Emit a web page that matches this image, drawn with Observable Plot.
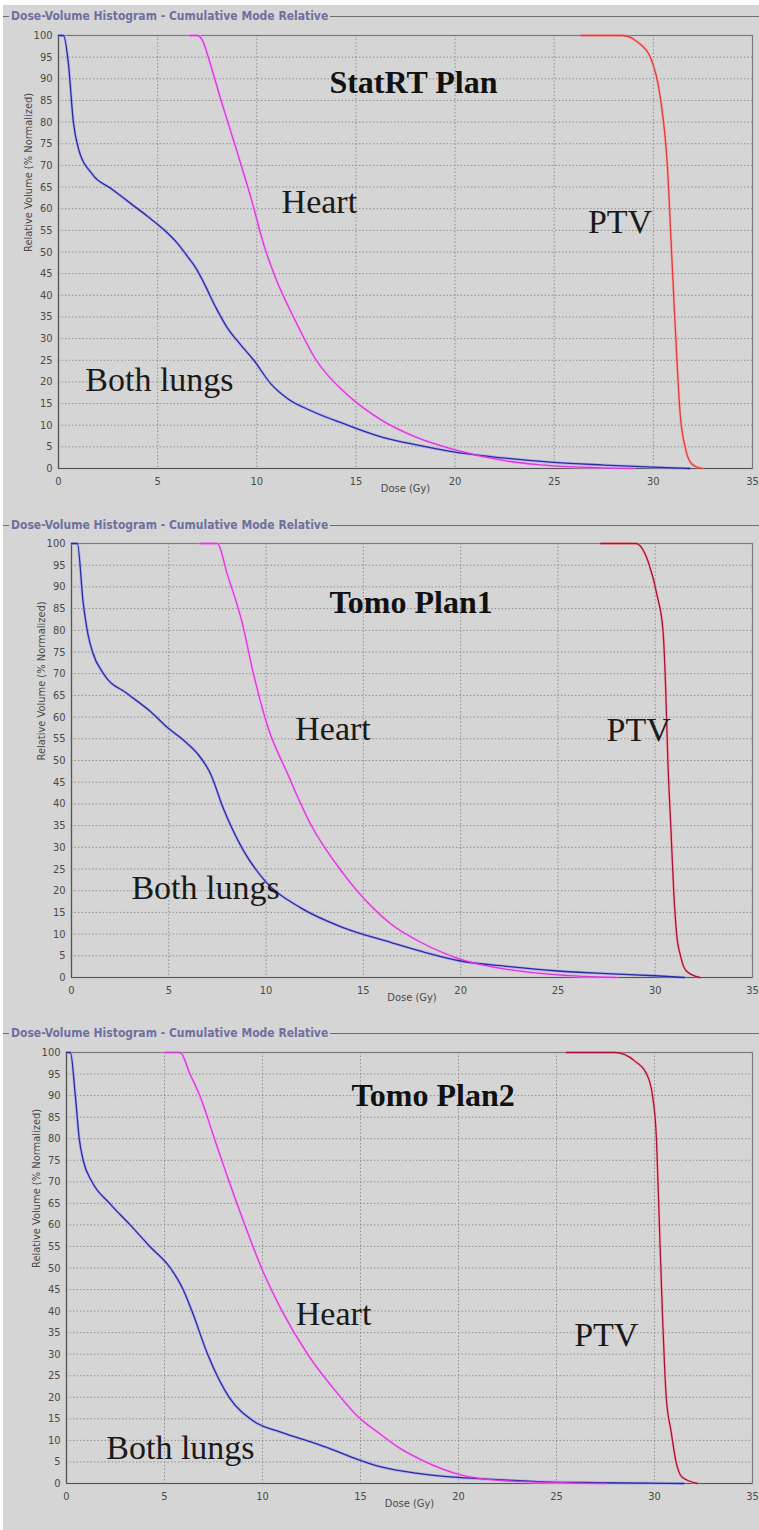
<!DOCTYPE html>
<html>
<head>
<meta charset="utf-8">
<script src="https://cdn.jsdelivr.net/npm/d3@7"></script>
<script src="https://cdn.jsdelivr.net/npm/@observablehq/plot@0.6"></script>
<style>
  html, body { margin: 0; padding: 0; background: #ffffff; }
  #page { position: relative; width: 759px; height: 1530px; overflow: hidden; background: #ffffff; }
  #bg { position: absolute; left: 3px; top: 5px; right: 0; bottom: 0; background: #d5d5d5; }
  .hdr { position: absolute; left: 3px; width: 756px; height: 16px; display: flex; align-items: center; }
  .hdr .seg { width: 6px; height: 0; border-top: 1.5px solid #6e6e6e; }
  .hdr .ttl { font-family: "Liberation Sans Narrow", "DejaVu Sans Condensed", "Liberation Sans", sans-serif; font-weight: bold; font-size: 12px; color: #6f6fa0; padding: 0 2px; white-space: nowrap; }
  .hdr .rest { flex: 1; height: 0; border-top: 1.5px solid #6e6e6e; }
  .panel { position: absolute; left: 0; }
</style>
</head>
<body>
<div id="page"><div id="bg"></div></div>
<script>
// ---------- data ----------
const xTicks = [0, 5, 10, 15, 20, 25, 30, 35];
const yTicks = [0, 5, 10, 15, 20, 25, 30, 35, 40, 45, 50, 55, 60, 65, 70, 75, 80, 85, 90, 95, 100];
const headerText = "Dose-Volume Histogram - Cumulative Mode Relative";
const xLabel = "Dose (Gy)";
const yLabel = "Relative Volume (% Normalized)";
const planNames = ["StatRT Plan", "Tomo Plan1", "Tomo Plan2"];
const structNames = ["Both lungs", "Heart", "PTV"];

// [dose (Gy), relative volume (%)]
const statLungs = [[0,100],[0.25,100],[0.5,93.5],[0.75,80],[1.0,74],[1.7,68],[2.7,64.5],[3.7,61],[4.5,58.2],[5.35,55],[6.0,52],[6.5,49],[6.9,46.5],[7.35,42.7],[7.9,37.5],[8.5,32.6],[9.2,28.5],[9.85,25],[10.7,19.6],[11.6,16],[12.7,13.4],[14.35,10.4],[16.35,7.2],[18,5.5],[20,3.8],[22.5,2.4],[25,1.4],[27.5,0.8],[30,0.3],[31.85,0]];
const statHeart = [[6.6,100],[7.0,100],[7.3,98.5],[7.5,95.8],[8.2,85],[8.95,74],[9.7,62.6],[10.4,51],[10.95,44],[11.85,35],[13.0,25],[14.5,17.3],[16.35,11],[18,7.3],[20,4.3],[22.5,1.8],[25,0.6],[27,0.2],[29,0]];
const statPTV = [[26.35,100],[28.45,100],[29.2,98.5],[29.85,95],[30.35,85.7],[30.7,70.4],[30.95,47],[31.2,24],[31.35,12.7],[31.6,5],[31.95,1],[32.45,0]];

const tomo1Lungs = [[0,100],[0.3,100],[0.6,86.4],[0.85,79],[1.08,75],[1.64,70],[2.87,65.4],[4.0,61.5],[4.93,57.6],[5.8,54.5],[6.47,51.6],[7.14,47],[7.8,39],[8.83,29.3],[10.06,21.7],[11.76,16.1],[13.96,11.5],[16.4,8.1],[18,6],[20,3.8],[22.5,2.5],[25,1.5],[27.5,0.9],[30,0.4],[31.5,0]];
const tomo1Heart = [[6.6,100],[7.5,100],[8.0,93],[8.78,81.6],[9.35,70],[10.1,57.6],[11.1,47],[12.27,35.5],[13.96,24],[15.5,16],[16.4,12.4],[18,8],[20,4.2],[22.5,1.8],[25,0.6],[28,0]];
const tomo1PTV = [[27.2,100],[29.0,100],[29.7,95],[30.1,88],[30.4,80],[30.55,65],[30.65,50],[30.8,35],[30.95,20],[31.1,10],[31.3,5],[31.6,1.5],[32.3,0]];

const tomo2Lungs = [[0,100],[0.2,100],[0.45,90],[0.65,80],[0.85,75],[1.3,70],[2.2,65],[3.25,60],[4.25,55],[5.3,50],[5.95,45],[6.4,40],[7.2,30],[8.3,20],[9.5,14.6],[11,11.8],[12.5,9.6],[13.5,8],[14.5,6.2],[16,3.9],[18,2.3],[20,1.4],[22,0.9],[24.4,0.4],[27,0.2],[29.6,0.1],[31.5,0]];
const tomo2Heart = [[5.0,100],[5.8,100],[6.3,95],[6.8,90],[7.55,80],[8.3,70],[9.1,60],[9.95,50],[11.0,40],[12.3,30],[13.9,20.5],[14.85,15.6],[16,11.5],[17,8.2],[18.1,5.5],[20.2,1.9],[22.2,0.7],[25,0.2],[27.5,0]];
const tomo2PTV = [[25.5,100],[28.0,100],[29.0,98],[29.6,95],[29.9,90],[30.1,80],[30.25,60],[30.4,40],[30.6,20],[30.85,12],[31.1,5],[31.4,1.5],[32.2,0]];

// label anchor points in data coordinates [dose, volume]
const statLabelPos = [[17.9,86.8],[1.35,18],[11.25,59.1],[26.7,54.5]];
const tomo1LabelPos = [[17.45,84.1],[3.08,18.2],[11.5,54.8],[27.5,54.6]];
const tomo2LabelPos = [[18.7,87.7],[2.03,5.6],[11.7,36.7],[25.9,32]];

// ---------- drawing ----------
const toRows = arr => arr.map(([dose, vol]) => ({dose, vol}));
const serif = "'Liberation Serif', 'Times New Roman', serif";
const sans = "'Liberation Sans Narrow', 'DejaVu Sans Condensed', 'Liberation Sans', sans-serif";

function panel(cfg) {
  const page = document.getElementById("page");
  const hdr = document.createElement("div");
  hdr.className = "hdr";
  hdr.style.top = cfg.hdrTop + "px";
  hdr.innerHTML = `<div class="seg"></div><div class="ttl"></div><div class="rest"></div>`;
  hdr.querySelector(".ttl").textContent = headerText;
  page.appendChild(hdr);

  const [plan, lungsPos, heartPos, ptvPos] = cfg.labelPos;
  const lineOpts = {x: "dose", y: "vol", curve: "monotone-x"};
  const chart = Plot.plot({
    width: 759,
    height: cfg.height,
    marginTop: cfg.mt, marginBottom: cfg.mb, marginLeft: cfg.ml, marginRight: cfg.mr,
    style: {background: "transparent", fontFamily: sans, fontSize: "11px", color: "#4a4a4a", overflow: "visible"},
    x: {domain: [0, 35]},
    y: {domain: [0, 100]},
    marks: [
      Plot.gridX(xTicks.slice(1, -1), {stroke: "#8a8a8a", strokeOpacity: 0.9, strokeDasharray: "1.5,2"}),
      Plot.gridY(yTicks.slice(1, -1), {stroke: "#8a8a8a", strokeOpacity: 0.9, strokeDasharray: "1.5,2"}),
      Plot.frame({stroke: "#7a7a7a", strokeWidth: 1.2}),
      Plot.ruleX([0], {stroke: "#555", strokeWidth: 1.2}),
      Plot.ruleY([0], {stroke: "#555", strokeWidth: 1.2}),
      Plot.axisX(xTicks, {tickSize: 0, tickPadding: 9, label: null, fontSize: 11}),
      Plot.axisY(yTicks, {tickSize: 0, tickPadding: 6, label: null, fontSize: 11}),
      Plot.text([xLabel], {frameAnchor: "bottom", dy: 23, fontSize: 11, fill: "#4a4a4a"}),
      Plot.text([yLabel], {frameAnchor: "left", dx: -30, rotate: -90, fontSize: 11, fill: "#4a4a4a"}),
      // halos
      Plot.line(toRows(cfg.lungs), {...lineOpts, stroke: "#9a9aff", strokeWidth: 3, strokeOpacity: 0.55}),
      Plot.line(toRows(cfg.heart), {...lineOpts, stroke: "#ff9cff", strokeWidth: 3, strokeOpacity: 0.55}),
      Plot.line(toRows(cfg.ptv), {...lineOpts, stroke: "#ff9a9a", strokeWidth: 3, strokeOpacity: 0.5}),
      Plot.line(toRows(cfg.lungs), {...lineOpts, stroke: "#2a2a9c", strokeWidth: 1.3}),
      Plot.line(toRows(cfg.heart), {...lineOpts, stroke: "#d63ad6", strokeWidth: 1.3}),
      Plot.line(toRows(cfg.ptv), {...lineOpts, stroke: cfg.ptvColor, strokeWidth: 1.3}),
      Plot.text([cfg.name], {x: plan[0], y: plan[1], textAnchor: "middle", lineAnchor: "bottom", fontFamily: serif, fontWeight: "bold", fontSize: 32, fill: "#111"}),
      Plot.text([structNames[0]], {x: lungsPos[0], y: lungsPos[1], textAnchor: "start", lineAnchor: "bottom", fontFamily: serif, fontSize: 34, fill: "#1a1a1a"}),
      Plot.text([structNames[1]], {x: heartPos[0], y: heartPos[1], textAnchor: "start", lineAnchor: "bottom", fontFamily: serif, fontSize: 34, fill: "#1a1a1a"}),
      Plot.text([structNames[2]], {x: ptvPos[0], y: ptvPos[1], textAnchor: "start", lineAnchor: "bottom", fontFamily: serif, fontSize: 34, fill: "#1a1a1a"})
    ]
  });
  const wrap = document.createElement("div");
  wrap.className = "panel";
  wrap.style.top = cfg.svgTop + "px";
  wrap.appendChild(chart);
  page.appendChild(wrap);
}

panel({name: planNames[0], hdrTop: 8, svgTop: 26, height: 482, mt: 9, mb: 40, ml: 58, mr: 7,
  lungs: statLungs, heart: statHeart, ptv: statPTV, ptvColor: "#e03a3a", labelPos: statLabelPos});
panel({name: planNames[1], hdrTop: 517, svgTop: 534, height: 483, mt: 9, mb: 40, ml: 71, mr: 7,
  lungs: tomo1Lungs, heart: tomo1Heart, ptv: tomo1PTV, ptvColor: "#a8103a", labelPos: tomo1LabelPos});
panel({name: planNames[2], hdrTop: 1025, svgTop: 1043, height: 480, mt: 9, mb: 40, ml: 66, mr: 7,
  lungs: tomo2Lungs, heart: tomo2Heart, ptv: tomo2PTV, ptvColor: "#a8103a", labelPos: tomo2LabelPos});
</script>
</body>
</html>
